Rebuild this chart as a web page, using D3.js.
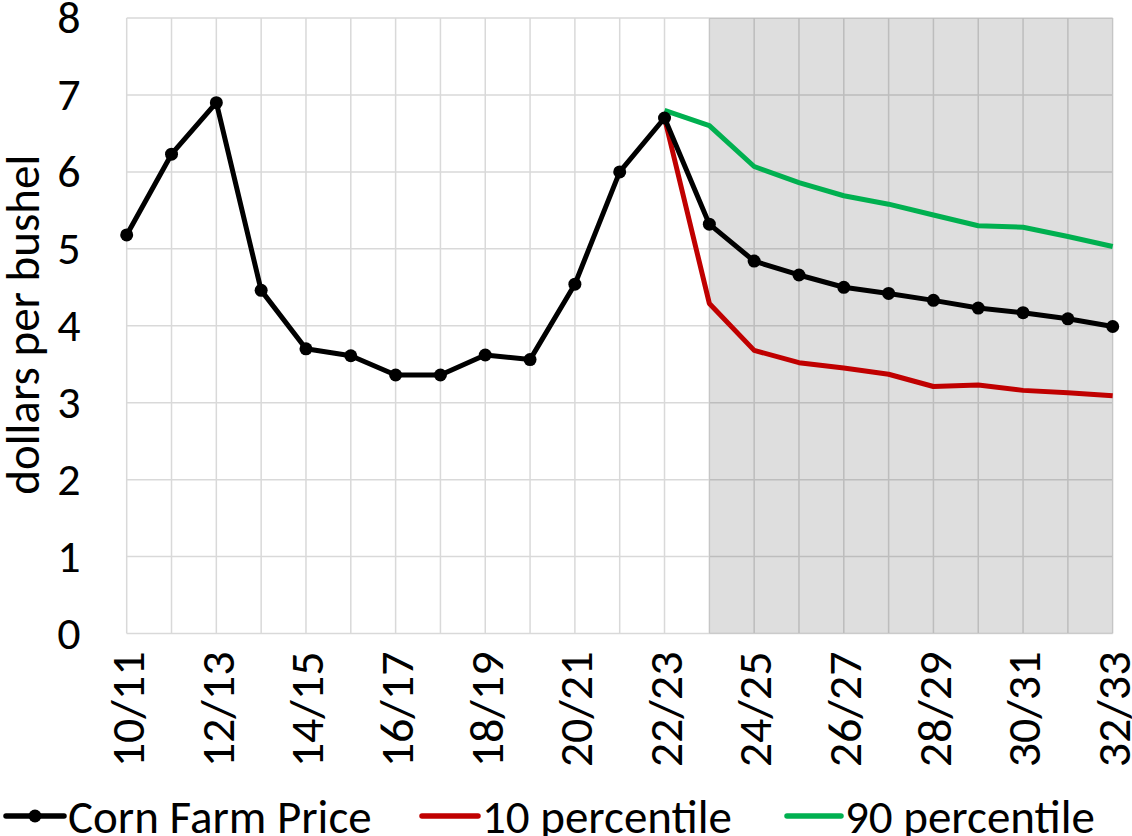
<!DOCTYPE html>
<html>
<head>
<meta charset="utf-8">
<script src="https://cdn.jsdelivr.net/npm/d3@7"></script>
<style>
  html, body { margin: 0; padding: 0; background: #fff; }
  svg { display: block; font-family: Carlito, Calibri, "Open Sans", sans-serif; }
</style>
</head>
<body>
<svg id="chart" width="1132" height="836"></svg>
<script>
// Marketing years, 2010/11 through 2032/33
const years = ["10/11","11/12","12/13","13/14","14/15","15/16","16/17","17/18","18/19","19/20",
               "20/21","21/22","22/23","23/24","24/25","25/26","26/27","27/28","28/29","29/30",
               "30/31","31/32","32/33"];
const tickYears = ["10/11","12/13","14/15","16/17","18/19","20/21","22/23","24/25","26/27","28/29","30/31","32/33"];
const yTicks = [0,1,2,3,4,5,6,7,8];

// Corn farm price, dollars per bushel
const cornPrice = [5.18, 6.23, 6.90, 4.46, 3.70, 3.61, 3.36, 3.36, 3.62, 3.56,
                   4.54, 6.00, 6.70, 5.32, 4.84, 4.66, 4.50, 4.42, 4.33, 4.23,
                   4.17, 4.09, 3.99];
// Stochastic projection bands, starting from 22/23
const bandYears = ["22/23","23/24","24/25","25/26","26/27","27/28","28/29","29/30","30/31","31/32","32/33"];
const pct10 = [6.70, 4.29, 3.68, 3.52, 3.45, 3.37, 3.21, 3.23, 3.16, 3.13, 3.09];
const pct90 = [6.80, 6.60, 6.07, 5.86, 5.69, 5.58, 5.44, 5.30, 5.28, 5.16, 5.03];

// Projection period shading
const projStart = "23/24", projEnd = "32/33";

const FONT = "Carlito, Calibri, 'Open Sans', sans-serif";
const svg = d3.select("#chart");
const m = { left: 126.7, right: 1112.7, top: 18, bottom: 633.5 };

const x = d3.scalePoint().domain(years).range([m.left, m.right]);
const y = d3.scaleLinear().domain([0, 8]).range([m.bottom, m.top]);

// gridlines
const grid = svg.append("g");
grid.selectAll("line.v").data(years).join("line")
  .attr("x1", d => x(d)).attr("x2", d => x(d))
  .attr("y1", m.top).attr("y2", m.bottom)
  .attr("stroke", "#d9d9d9").attr("stroke-width", 1.5);
grid.selectAll("line.h").data(yTicks).join("line")
  .attr("x1", m.left).attr("x2", m.right)
  .attr("y1", d => y(d)).attr("y2", d => y(d))
  .attr("stroke", "#d9d9d9").attr("stroke-width", 1.5);

// shaded projection period
svg.append("rect")
  .attr("x", x(projStart)).attr("y", m.top)
  .attr("width", x(projEnd) - x(projStart)).attr("height", m.bottom - m.top)
  .attr("fill", "#000").attr("fill-opacity", 0.13);

// y axis
const yAxis = svg.append("g")
  .attr("transform", `translate(${m.left},0)`)
  .call(d3.axisLeft(y).tickValues(yTicks).tickSize(0).tickPadding(46).tickFormat(d3.format("d")));
yAxis.select(".domain").remove();
yAxis.selectAll("text").attr("font-size", 46).attr("fill", "#000")
  .attr("font-family", FONT);

svg.append("text")
  .attr("transform", `translate(39,${(m.top + m.bottom) / 2 - 1}) rotate(-90)`)
  .attr("text-anchor", "middle")
  .attr("font-size", 47)
  .text("dollars per bushel");

// x axis
const xAxis = svg.append("g")
  .attr("transform", `translate(0,${m.bottom})`)
  .call(d3.axisBottom(x).tickValues(tickYears).tickSize(0).tickPadding(0));
xAxis.select(".domain").remove();
xAxis.selectAll("text")
  .attr("font-size", 48).attr("fill", "#000")
  .attr("font-family", FONT)
  .attr("text-anchor", "end")
  .attr("dy", "0.35em")
  .attr("transform", "translate(0,18) rotate(-90)")
  .attr("x", 0).attr("y", 0);

// series
const line = d3.line().x(d => x(d[0])).y(d => y(d[1]));
const band10 = bandYears.map((k, i) => [k, pct10[i]]);
const band90 = bandYears.map((k, i) => [k, pct90[i]]);
const corn = years.map((k, i) => [k, cornPrice[i]]);

svg.append("path").attr("d", line(band90)).attr("fill", "none")
  .attr("stroke", "#00b050").attr("stroke-width", 5).attr("stroke-linejoin", "round");
svg.append("path").attr("d", line(band10)).attr("fill", "none")
  .attr("stroke", "#c00000").attr("stroke-width", 5).attr("stroke-linejoin", "round");
svg.append("path").attr("d", line(corn)).attr("fill", "none")
  .attr("stroke", "#000").attr("stroke-width", 5).attr("stroke-linejoin", "round");
svg.selectAll("circle.pt").data(corn).join("circle")
  .attr("cx", d => x(d[0])).attr("cy", d => y(d[1])).attr("r", 6.5).attr("fill", "#000");

// legend
const legendItems = [
  { label: "Corn Farm Price", color: "#000", marker: true, x0: 6, x1: 64 },
  { label: "10 percentile", color: "#c00000", marker: false, x0: 422, x1: 478 },
  { label: "90 percentile", color: "#00b050", marker: false, x0: 787, x1: 841 }
];
const lineY = 816, baseY = 833;
const lg = svg.append("g");
legendItems.forEach(it => {
  lg.append("line").attr("x1", it.x0).attr("x2", it.x1).attr("y1", lineY).attr("y2", lineY)
    .attr("stroke", it.color).attr("stroke-width", 5.5).attr("stroke-linecap", "round");
  if (it.marker) lg.append("circle").attr("cx", (it.x0 + it.x1) / 2).attr("cy", lineY).attr("r", 6.5).attr("fill", it.color);
  lg.append("text").attr("x", it.x1 + 4).attr("y", baseY)
    .attr("font-size", 47).text(it.label);
});
</script>
</body>
</html>
